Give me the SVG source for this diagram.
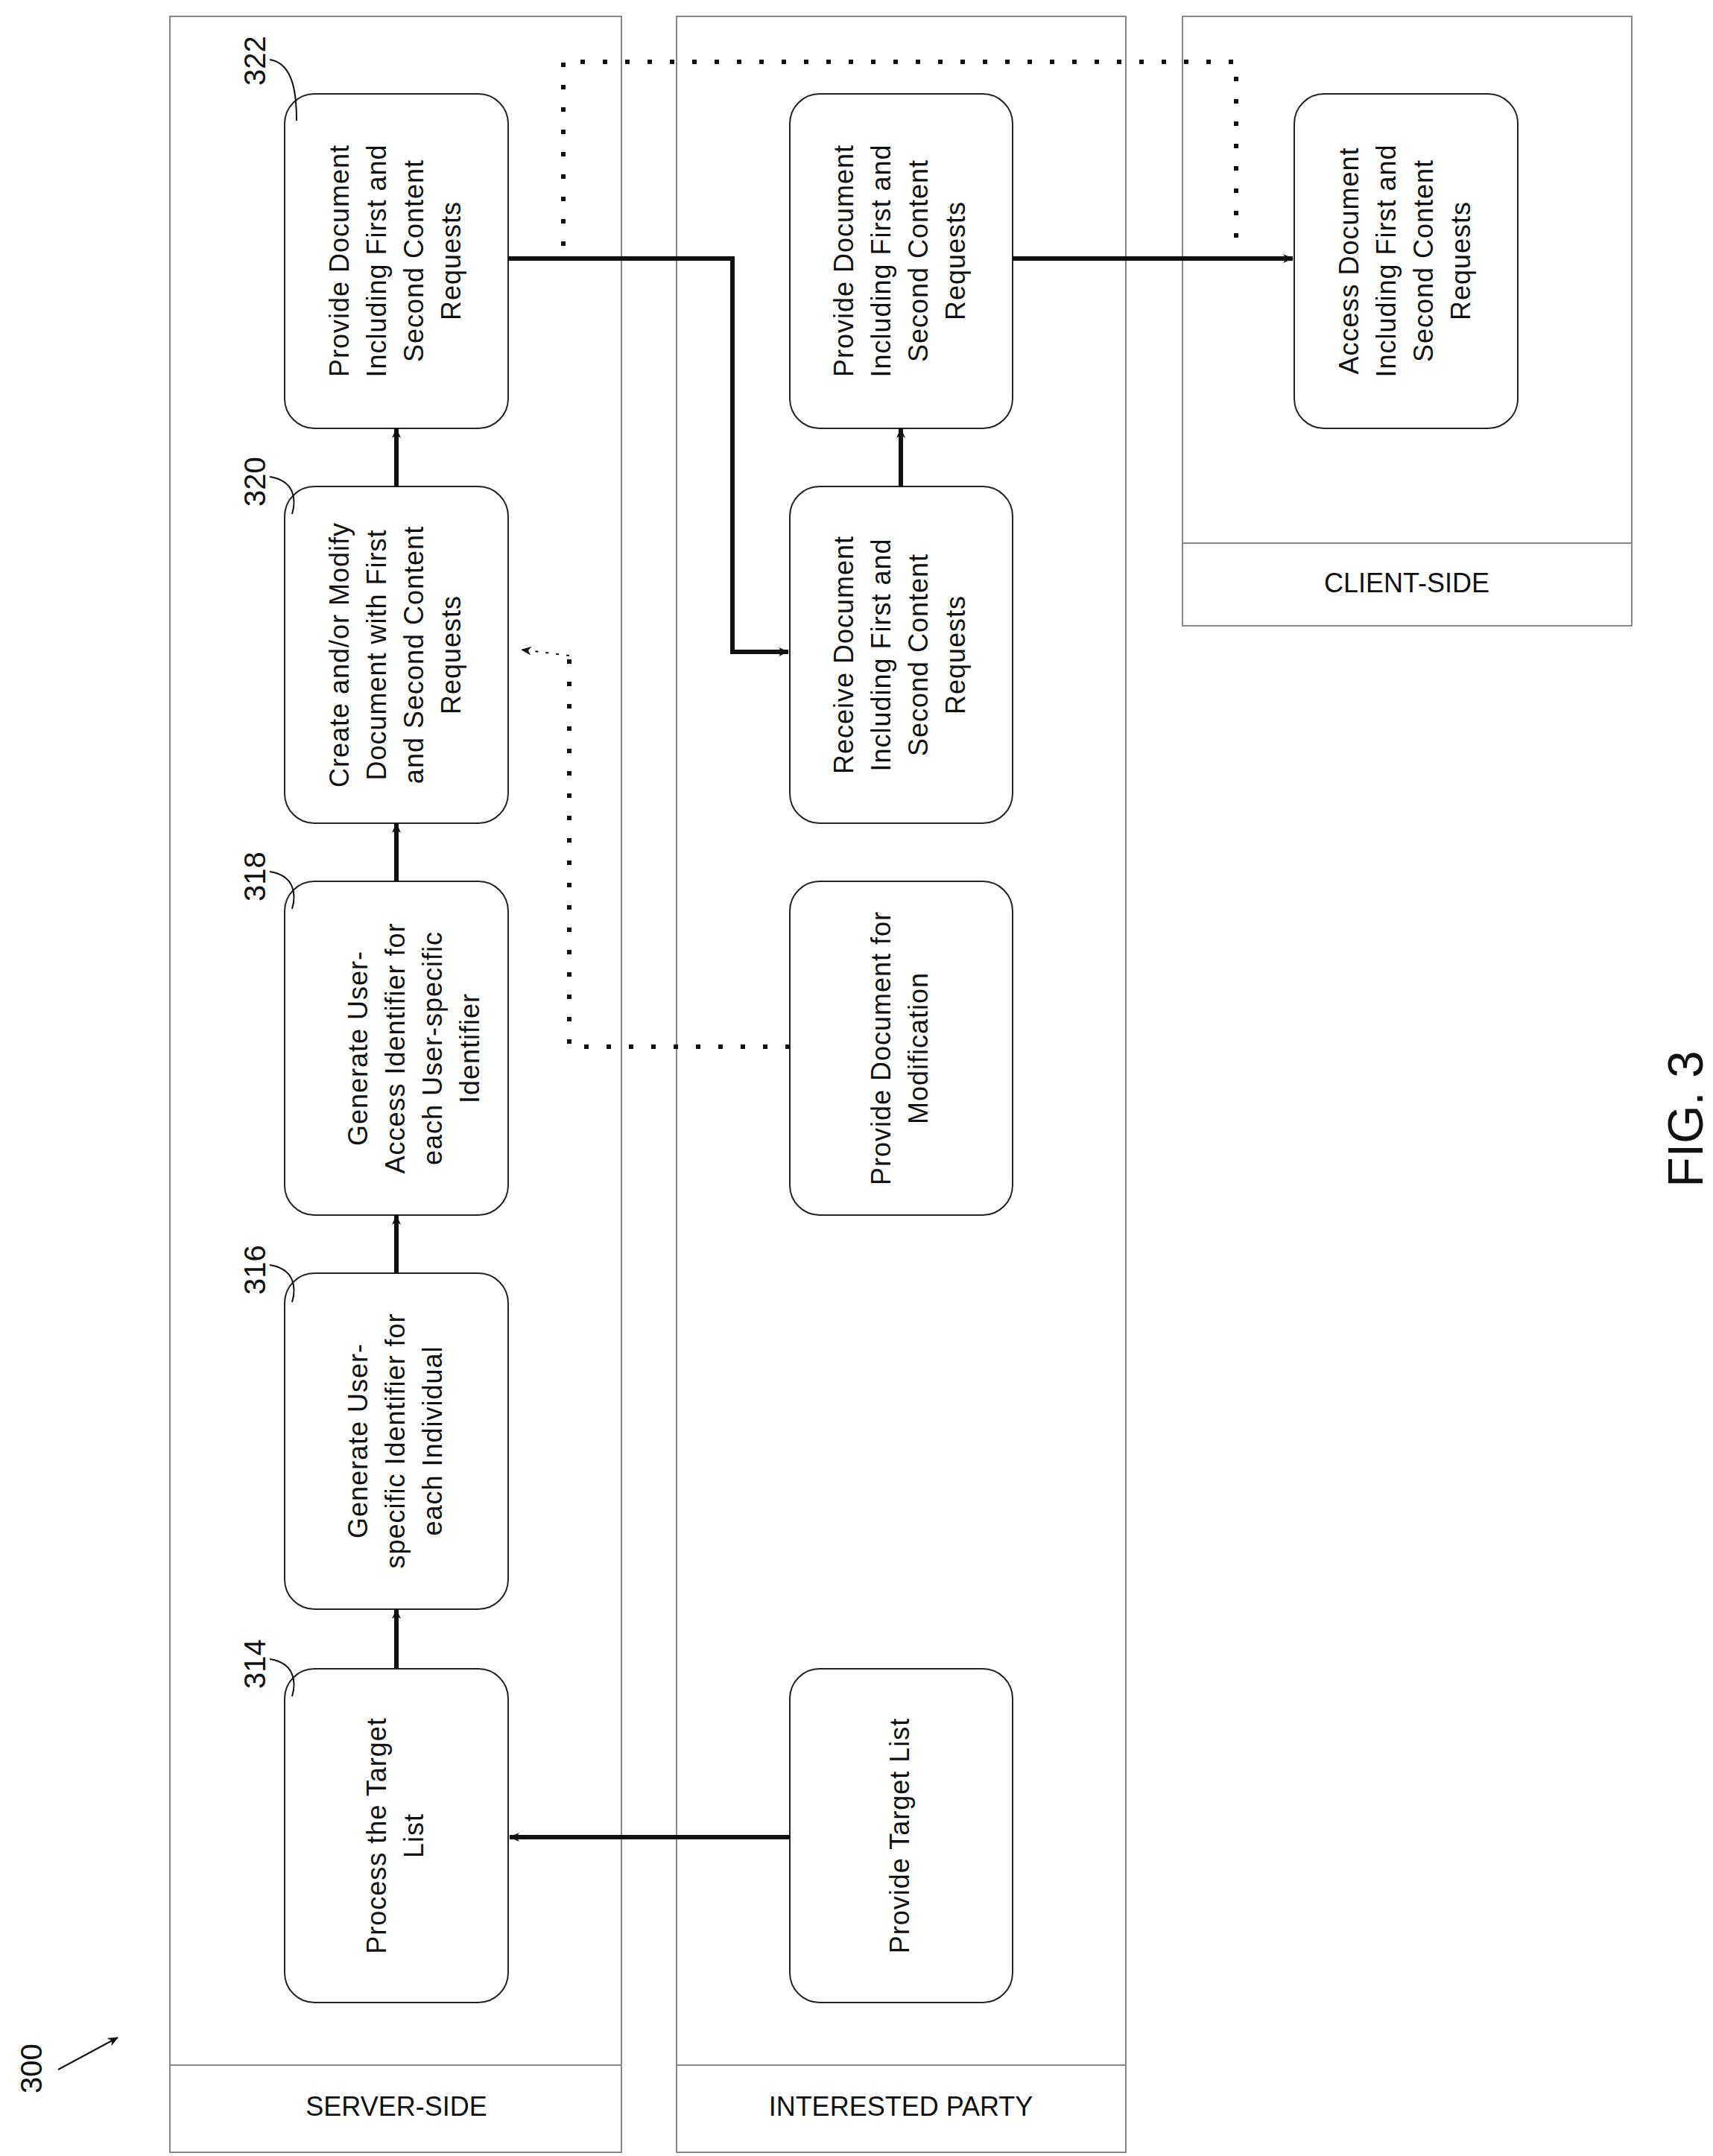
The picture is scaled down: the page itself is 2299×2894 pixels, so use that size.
<svg xmlns="http://www.w3.org/2000/svg" width="2299" height="2894" viewBox="0 0 2299 2894">
<style>
.lane{fill:none;stroke:#888;stroke-width:2}
.box{fill:#fff;stroke:#222;stroke-width:2}
.t{font-family:"Liberation Sans",Arial,sans-serif;font-size:36px;fill:#111;text-anchor:middle;letter-spacing:1px}
.lbl{font-family:"Liberation Sans",Arial,sans-serif;font-size:36px;fill:#111;text-anchor:middle}
.num{font-family:"Liberation Sans",Arial,sans-serif;font-size:40px;fill:#111}
.c{fill:none;stroke:#111;stroke-width:6}
.d{fill:none;stroke:#111;stroke-width:6;stroke-dasharray:6 24}
.lead{fill:none;stroke:#111;stroke-width:2}
</style>
<defs>
<marker id="a" markerWidth="6" markerHeight="6" refX="5" refY="3" orient="auto" markerUnits="strokeWidth"><path d="M0,0 L6,3 L0,6 z" fill="#111"/></marker>
<marker id="b" markerWidth="14" markerHeight="12" refX="13" refY="6" orient="auto" markerUnits="userSpaceOnUse"><path d="M0,0 L14,6 L0,12 L4,6 z" fill="#111"/></marker>
</defs>
<g id="lanes">
<rect class="lane" x="228" y="22" width="606" height="2867"/><line class="lane" x1="228" y1="2772" x2="834" y2="2772"/>
<text class="lbl" x="532" y="2840">SERVER-SIDE</text>
<rect class="lane" x="908" y="22" width="603" height="2867"/><line class="lane" x1="908" y1="2772" x2="1511" y2="2772"/>
<text class="lbl" x="1209" y="2840">INTERESTED PARTY</text>
<rect class="lane" x="1587" y="22" width="603" height="818"/><line class="lane" x1="1587" y1="729" x2="2190" y2="729"/>
<text class="lbl" x="1888" y="795">CLIENT-SIDE</text>
</g>
<g id="n322"><rect class="box" x="382" y="126" width="300" height="449" rx="40"/>
<text class="t" transform="translate(532,350) rotate(-90)"><tspan x="0" y="-64">Provide Document</tspan><tspan x="0" y="-14">Including First and</tspan><tspan x="0" y="36">Second Content</tspan><tspan x="0" y="86">Requests</tspan></text></g>
<g id="n320"><rect class="box" x="382" y="653" width="300" height="452" rx="40"/>
<text class="t" transform="translate(532,879) rotate(-90)"><tspan x="0" y="-64">Create and/or Modify</tspan><tspan x="0" y="-14">Document with First</tspan><tspan x="0" y="36">and Second Content</tspan><tspan x="0" y="86">Requests</tspan></text></g>
<g id="n318"><rect class="box" x="382" y="1183" width="300" height="448" rx="40"/>
<text class="t" transform="translate(532,1407) rotate(-90)"><tspan x="0" y="-39">Generate User-</tspan><tspan x="0" y="11">Access Identifier for</tspan><tspan x="0" y="61">each User-specific</tspan><tspan x="0" y="111">Identifier</tspan></text></g>
<g id="n316"><rect class="box" x="382" y="1709" width="300" height="451" rx="40"/>
<text class="t" transform="translate(532,1934) rotate(-90)"><tspan x="0" y="-39">Generate User-</tspan><tspan x="0" y="11">specific Identifier for</tspan><tspan x="0" y="61">each Individual</tspan></text></g>
<g id="n314"><rect class="box" x="382" y="2240" width="300" height="448" rx="40"/>
<text class="t" transform="translate(532,2464) rotate(-90)"><tspan x="0" y="-14">Process the Target</tspan><tspan x="0" y="36">List</tspan></text></g>
<g id="ip1"><rect class="box" x="1060" y="126" width="299" height="449" rx="40"/>
<text class="t" transform="translate(1209,350) rotate(-90)"><tspan x="0" y="-64">Provide Document</tspan><tspan x="0" y="-14">Including First and</tspan><tspan x="0" y="36">Second Content</tspan><tspan x="0" y="86">Requests</tspan></text></g>
<g id="ip2"><rect class="box" x="1060" y="653" width="299" height="452" rx="40"/>
<text class="t" transform="translate(1209,879) rotate(-90)"><tspan x="0" y="-64">Receive Document</tspan><tspan x="0" y="-14">Including First and</tspan><tspan x="0" y="36">Second Content</tspan><tspan x="0" y="86">Requests</tspan></text></g>
<g id="ip3"><rect class="box" x="1060" y="1183" width="299" height="448" rx="40"/>
<text class="t" transform="translate(1209,1407) rotate(-90)"><tspan x="0" y="-14">Provide Document for</tspan><tspan x="0" y="36">Modification</tspan></text></g>
<g id="ip4"><rect class="box" x="1060" y="2240" width="299" height="448" rx="40"/>
<text class="t" transform="translate(1209,2464) rotate(-90)"><tspan x="0" y="11">Provide Target List</tspan></text></g>
<g id="cl1"><rect class="box" x="1737" y="126" width="300" height="449" rx="40"/>
<text class="t" transform="translate(1887,350) rotate(-90)"><tspan x="0" y="-64">Access Document</tspan><tspan x="0" y="-14">Including First and</tspan><tspan x="0" y="36">Second Content</tspan><tspan x="0" y="86">Requests</tspan></text></g>
<g id="refs">
<text class="num" transform="translate(356,115) rotate(-90)">322</text>
<path class="lead" d="M362,80 C395,85 398,130 398,162"/>
<text class="num" transform="translate(356,680) rotate(-90)">320</text>
<path class="lead" d="M362,640 C395,645 398,670 392,690"/>
<text class="num" transform="translate(356,1210) rotate(-90)">318</text>
<path class="lead" d="M362,1170 C395,1175 398,1200 392,1220"/>
<text class="num" transform="translate(356,1738) rotate(-90)">316</text>
<path class="lead" d="M362,1698 C395,1703 398,1728 392,1748"/>
<text class="num" transform="translate(356,2267) rotate(-90)">314</text>
<path class="lead" d="M362,2227 C395,2232 398,2257 392,2277"/>
<text class="num" transform="translate(56,2810) rotate(-90)">300</text>
<line class="lead" x1="78" y1="2778" x2="158" y2="2735" stroke-width="4" marker-end="url(#b)"/>
<text class="num" style="font-size:66px" transform="translate(2285,1502) rotate(-90)" text-anchor="middle">FIG. 3</text>
</g>
<g id="connectors">
<line class="c" x1="532" y1="2240" x2="532" y2="2160" marker-end="url(#b)"/>
<line class="c" x1="532" y1="1709" x2="532" y2="1631" marker-end="url(#b)"/>
<line class="c" x1="532" y1="1183" x2="532" y2="1105" marker-end="url(#b)"/>
<line class="c" x1="532" y1="653" x2="532" y2="575" marker-end="url(#b)"/>
<line class="c" x1="1209" y1="653" x2="1209" y2="575" marker-end="url(#b)"/>
<polyline class="c" points="682,347 983,347 983,875 1058,875" marker-end="url(#b)"/>
<line class="c" x1="1359" y1="347" x2="1735" y2="347" marker-end="url(#b)"/>
<line class="c" x1="1060" y1="2466" x2="684" y2="2466" marker-end="url(#b)"/>
<polyline class="d" points="756,330 756,83 1659,83 1659,320"/>
<polyline class="d" points="1060,1405 764,1405 764,880"/>
<path d="M764,880 L700,872" class="lead" marker-end="url(#b)" stroke-dasharray="4 10"/>
</g>
</svg>
